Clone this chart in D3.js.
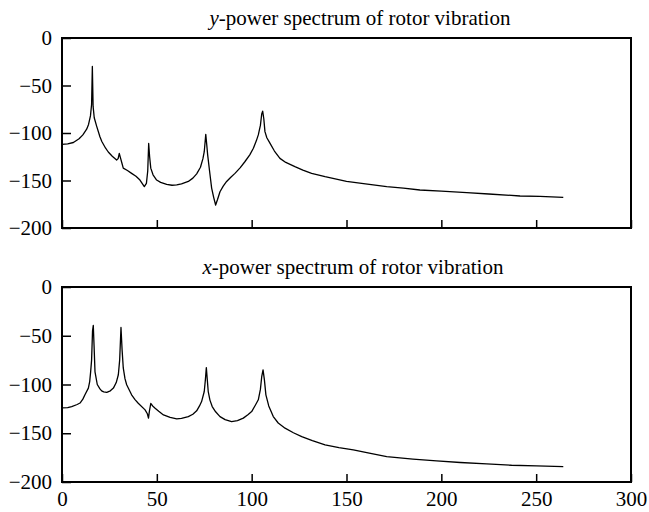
<!DOCTYPE html>
<html>
<head>
<meta charset="utf-8">
<script src="https://cdn.jsdelivr.net/npm/d3@7"></script>
<style>
  body { margin: 0; background: #fff; }
  svg text { font-family: "Liberation Serif", "Times New Roman", serif; fill: #000; }
</style>
</head>
<body>
<svg width="649" height="512"></svg>
<script>
// frequency axis ticks and power axis ticks
const xTicks = [0, 50, 100, 150, 200, 250, 300];
const yTicks = [0, -50, -100, -150, -200];

// y-power spectrum (top panel)
const freqY = [0, 3, 6, 9, 11, 13, 14, 15, 15.6, 16, 16.4, 17, 18.3, 20, 21, 23, 24.4, 26.5, 28.8, 29.6,
  30.2, 30.8, 31.5, 32.3, 34.5, 36.7, 39, 41.1, 43.4, 44.5, 45.2, 45.7, 46.2, 46.8, 48, 49.9, 52, 55.2, 58, 60.5,
  63, 66.6, 69, 71, 73, 74.3, 75, 75.8, 76.3, 76.8, 77.8, 78.9, 80, 81, 82, 83.3, 85, 86.8, 89, 91.2,
  94, 96.5, 99, 100.9, 102.5, 103.5, 104.6, 105.3, 105.8, 106.4, 107, 108, 109.7, 112, 114.9, 118, 122.8, 127, 131.6, 138.7,
  150, 160, 171.2, 180, 188.7, 200, 213.4, 225, 241.5, 252, 264.3];
const powerY = [-112, -111.5, -110, -106, -102, -96, -91, -82, -70, -30, -72, -84, -93, -104, -109, -116, -120, -124.5, -128.5, -127,
  -121.5, -126, -131, -137, -139.5, -142.5, -145.5, -149.5, -156.5, -153, -140, -111, -125, -137, -144, -149.5, -152, -154, -155, -154.7,
  -153.5, -151, -147.5, -143, -136, -127, -119.7, -101.4, -112, -123, -140, -158, -168, -175.8, -170, -161.8, -156, -151, -146.5, -142.5,
  -136.5, -130, -123, -116, -108, -102, -92, -80, -77, -85, -98.6, -105, -110.9, -119, -126.7, -131, -135.4, -139, -142.5, -146,
  -151, -153.5, -156.5, -158, -160, -161.2, -162.8, -164.2, -166.3, -166.8, -167.7];

// x-power spectrum (bottom panel)
const freqX = [0, 3, 5.1, 8, 9.5, 11, 12.1, 13.9, 14.6, 15.1, 15.6, 16.1, 16.5, 16.9, 17.4, 18.6, 20, 20.9, 22, 23.6,
  25.5, 27.1, 28.6, 29.7, 30.4, 31.1, 31.7, 32.3, 33.2, 34.1, 36.7, 38.5, 40.2, 43.8, 45, 45.6, 46.1, 46.8, 47.8, 49.1,
  51, 53.5, 57, 60.5, 63, 66.6, 69, 71, 72.5, 73.6, 75, 75.6, 76.1, 76.6, 77.1, 78, 79.2, 81, 83.3, 86,
  89.4, 92.5, 95.6, 98, 100, 102, 103.5, 104.6, 105.3, 106, 106.7, 107.5, 109, 111.4, 114, 117.6, 122, 126.4, 132, 138.7,
  146, 153.6, 162, 171.2, 185, 197.5, 210, 223.9, 237, 250.2, 264.3];
const powerX = [-124, -123.8, -122.6, -120.5, -119, -115, -110.6, -103.7, -97, -87, -75, -45, -39.4, -60, -87, -100, -104.5, -106.5, -107.5, -108,
  -106.5, -103.7, -98, -90, -75, -41.5, -65, -83, -94, -100.3, -110.6, -115.5, -119.2, -126, -130, -134.5, -127, -119.5, -122, -124.3,
  -127.5, -131.2, -133.8, -135.3, -134.8, -132.9, -130.5, -127, -122, -117.5, -107.2, -95, -82.6, -95, -107.2, -116, -122.6, -128, -132.9, -136,
  -138, -137, -134.5, -131, -127.8, -121, -115.7, -105, -92, -85, -95, -110.6, -122, -132.9, -139.5, -144.8, -149.5, -153.4, -157.5, -162,
  -164.8, -167, -170.5, -174, -176.5, -178.4, -180, -181.5, -182.8, -183.5, -184.2];

const svg = d3.select("svg");
const left = 62, right = 631;

const x = d3.scaleLinear().domain([0, 300]).range([left, right]);

const panels = [
  {top: 38, bottom: 228, freq: freqY, power: powerY, letter: "y", tx: 360, ty: 25, labels: false},
  {top: 287, bottom: 482, freq: freqX, power: powerX, letter: "x", tx: 353, ty: 274, labels: true}
];

panels.forEach(p => {
  const y = d3.scaleLinear().domain([-200, 0]).range([p.bottom, p.top]);
  const g = svg.append("g");

  // left axis, ticks point inward
  const ya = g.append("g")
    .attr("transform", `translate(${left},0)`)
    .call(d3.axisLeft(y).tickValues(yTicks).tickSize(-9).tickPadding(10));
  ya.select(".domain").remove();
  ya.selectAll("text").style("font-size", "21px");
  ya.selectAll("line").attr("stroke-width", 1.5);

  const xa = g.append("g")
    .attr("transform", `translate(0,${p.bottom})`)
    .call(d3.axisBottom(x).tickValues(xTicks).tickSize(-8).tickPadding(9)
      .tickFormat(p.labels ? d3.format("d") : ""));
  xa.select(".domain").remove();
  xa.selectAll("text").style("font-size", "21px");
  xa.selectAll("line").attr("stroke-width", 1.5);

  g.append("rect")
    .attr("x", left).attr("y", p.top)
    .attr("width", right - left).attr("height", p.bottom - p.top)
    .attr("fill", "none").attr("stroke", "#000").attr("stroke-width", 2);

  const line = d3.line()
    .x((d, i) => x(p.freq[i]))
    .y(d => y(d));

  g.append("path")
    .datum(p.power)
    .attr("d", line)
    .attr("fill", "none")
    .attr("stroke", "#000")
    .attr("stroke-width", 1.3)
    .attr("stroke-linejoin", "round");

  const t = g.append("text")
    .attr("x", p.tx).attr("y", p.ty)
    .attr("text-anchor", "middle")
    .style("font-size", "21px");
  t.append("tspan").style("font-style", "italic").text(p.letter);
  t.append("tspan").text("-power spectrum of rotor vibration");
});
</script>
</body>
</html>
